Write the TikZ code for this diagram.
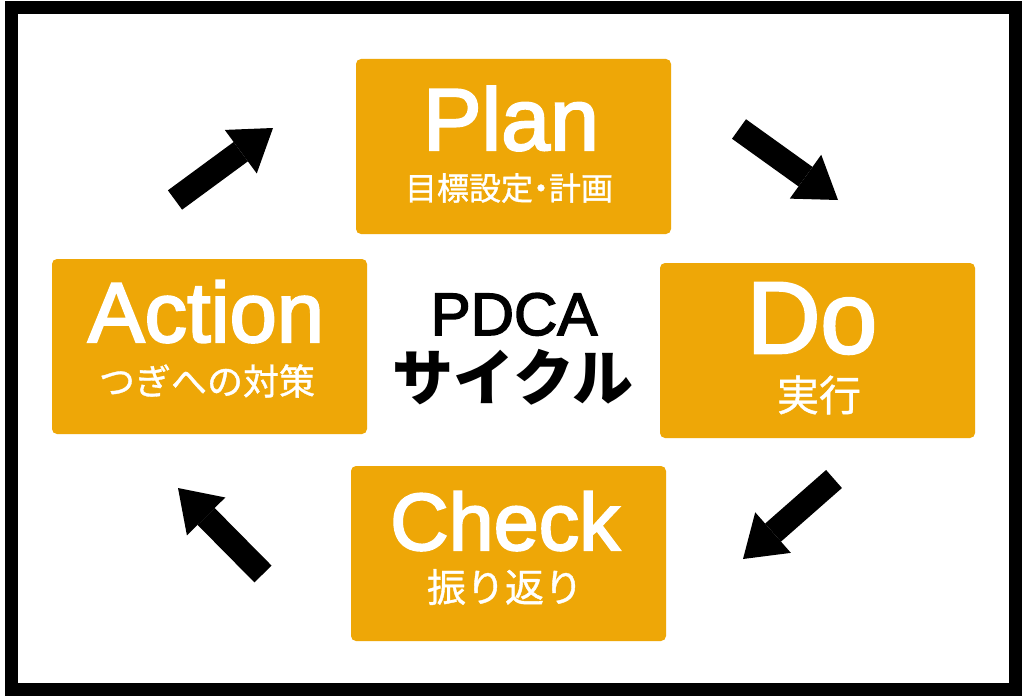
\documentclass[tikz,border=0pt]{standalone}
\usepackage{xcolor}
\usepackage{fontspec}
\usepackage{tikz}
\usetikzlibrary{arrows.meta,positioning,calc}
\setmainfont{Liberation Sans}
\newfontfamily\titlefont[FakeBold=2.5]{Liberation Sans}
\newfontfamily\jpfont[FakeBold=1]{Noto Sans CJK JP}
\newfontfamily\jpheavy{Noto Sans CJK JP}
\definecolor{pdcaorange}{RGB}{238,167,7}

\begin{document}
\begin{tikzpicture}[x=1pt,y=1pt,node distance=304pt,
line join=miter]

\tikzstyle{phase}=[rectangle, fill=pdcaorange, draw=none, rounded corners=5pt,
minimum width=315pt, minimum height=175pt, inner sep=0pt]
\tikzstyle{phasetitle}=[text=white, inner sep=0pt, anchor=base]
\tikzstyle{phasesub}=[text=white, inner sep=0pt]
\tikzstyle{fat}=[line width=24pt, -{Triangle[width=54pt,length=40pt,line width=0pt]}]

% page and frame
\useasboundingbox[fill=white] (0,0) rectangle (1024,-698);
\draw[line width=13pt] (11,-8) rectangle (1015,-689);

% the four boxes
\node[phase]
(plan) at (513.5,-146.5)
{};

\node[phase]
(do) [right of=plan, yshift=-204pt]
{};

\node[phase]
(act) [left of=plan, yshift=-200pt]
{};

\node[phase]
(check) [below of=plan, xshift=-5pt, yshift=-103pt]
{};

% box texts
\node[phasetitle] (planT) [xshift=-2.5pt, yshift=-3.5pt] at (plan)
{\titlefont\fontsize{88}{88}\selectfont Plan};
\node[phasesub] (planS) [xshift=-4.5pt, yshift=-41.5pt] at (plan)
{\jpfont\fontsize{32}{32}\selectfont 目標設定\kern-0.25em・\kern-0.25em計画};

\node[phasetitle] (doT) [xshift=-5.5pt, yshift=-2.5pt] at (do)
{\titlefont\fontsize{102}{102}\selectfont Do};
\node[phasesub] (doS) [xshift=1.5pt, yshift=-44.5pt] at (do)
{\jpfont\fontsize{42}{42}\selectfont 実行};

\node[phasetitle] (checkT) [xshift=-3.5pt, yshift=3.5pt] at (check)
{\titlefont\fontsize{81}{81}\selectfont Check};
\node[phasesub] (checkS) [xshift=-3.5pt, yshift=-33.5pt] at (check)
{\jpfont\fontsize{39}{39}\selectfont 振り返り};

\node[phasetitle] (actT) [xshift=-3.5pt, yshift=4.5pt] at (act)
{\titlefont\fontsize{85}{85}\selectfont Action};
\node[phasesub] (actS) [xshift=-2.5pt, yshift=-34.5pt] at (act)
{\jpfont\fontsize{36}{36}\selectfont つぎへの対策};

% centre title
\node[inner sep=0pt, anchor=base] (pdca) at (514,-335)
{\titlefont\fontsize{60}{60}\selectfont PDCA};
\node[inner sep=0pt] (cycle) at (513,-377)
{\jpheavy\bfseries\fontsize{61}{61}\selectfont サイクル};

% arrow ends
\coordinate (apTail) at (175,-200);
\coordinate (apTip) at (273,-128);
\coordinate (pdTail) at (739,-129);
\coordinate (pdTip) at (838,-200);
\coordinate (dcTail) at (834,-479);
\coordinate (dcTip) at (743,-559);
\coordinate (caTail) at (263,-574);
\coordinate (caTip) at (178,-488);

\draw[fat] (apTail) -- (apTip);
\draw[fat] (pdTail) -- (pdTip);
\draw[fat] (dcTail) -- (dcTip);
\draw[fat] (caTail) -- (caTip);

\end{tikzpicture}
\end{document}
